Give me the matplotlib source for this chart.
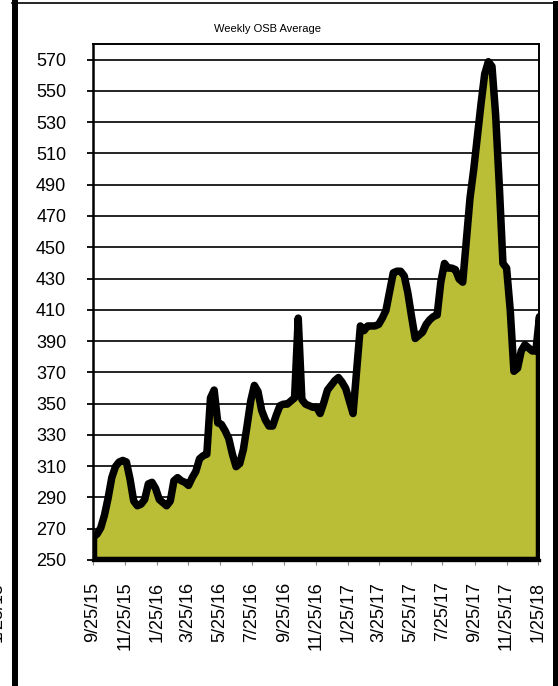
import matplotlib
matplotlib.use("Agg")
import matplotlib.pyplot as plt
import pandas as pd
from matplotlib.lines import Line2D

plt.rcParams['font.family'] = ['Liberation Sans', 'DejaVu Sans']

title = "Weekly OSB Average"
start_date = "2015-09-25"
osb_values = [
    265, 267, 271, 279, 290, 303, 310, 313, 314, 313,
    302, 288, 285, 286, 289, 299, 300, 296, 289, 287,
    285, 288, 301, 303, 301, 300, 298, 303, 307, 315,
    317, 318, 354, 359, 338, 337, 333, 328, 318, 310,
    312, 321, 336, 352, 362, 358, 346, 340, 336, 336,
    343, 349, 350, 350, 352, 354, 405, 353, 350, 349,
    348, 348, 344, 351, 359, 362, 365, 367, 364, 360,
    352, 344, 372, 400, 397, 400, 400, 400, 401, 405,
    410, 422, 434, 435, 435, 432, 421, 406, 392, 394,
    396, 401, 404, 406, 407, 428, 440, 437, 437, 436,
    430, 428, 455, 482, 500, 521, 542, 561, 569, 566,
    535, 490, 440, 437, 410, 371, 373, 384, 388, 386,
    384, 384, 406,
]
x_tick_labels = ["9/25/15", "11/25/15", "1/25/16", "3/25/16", "5/25/16",
                 "7/25/16", "9/25/16", "11/25/16", "1/25/17", "3/25/17",
                 "5/25/17", "7/25/17", "9/25/17", "11/25/17", "1/25/18"]
y_ticks = list(range(250, 571, 20))

dates = pd.date_range(start_date, periods=len(osb_values), freq="7D")
tick_dates = pd.to_datetime(x_tick_labels, format="%m/%d/%y")

W, H = 558, 686
fig = plt.figure(figsize=(W / 100, H / 100), dpi=100)
ax = fig.add_axes([93 / W, 1 - 560 / H, (539 - 93) / W, (560 - 44) / H])

fill = ax.fill_between(dates, osb_values, 250, facecolor="#BABD36",
                       edgecolor="black", linewidth=5.4, zorder=3)
fill.set_joinstyle("round")
fill.set_capstyle("round")

ax.set_xlim(dates[0], dates[-1])
ax.set_ylim(250, 580)
ax.set_yticks(y_ticks)
ax.set_yticklabels([str(v) for v in y_ticks], fontsize=13)
ax.set_xticks(tick_dates)
ax.set_xticklabels(x_tick_labels, rotation=90, fontsize=13)

for v in y_ticks[1:]:
    ax.axhline(v, color="black", linewidth=1.2, zorder=1)

ax.tick_params(axis="y", direction="out", length=4.3, width=1.3, color="black", pad=15)
ax.tick_params(axis="x", direction="out", length=3.6, width=0.8, color="#888888", pad=12)

for s in ["top", "right"]:
    ax.spines[s].set_linewidth(1.4)
    ax.spines[s].set_color("black")
ax.spines["left"].set_linewidth(1.8)
ax.spines["bottom"].set_linewidth(2.4)
for s in ax.spines.values():
    s.set_zorder(4)

fig.text(267 / W, 1 - 29 / H, title, fontsize=8, ha="center", va="center")

# surrounding frame bars
fig.add_artist(Line2D([15 / W, 15 / W], [0, 1 - 3 / H], color="black", linewidth=4.3))
fig.add_artist(Line2D([554.5 / W, 554.5 / W], [0, 1 - 3 / H], color="black", linewidth=3.6))
fig.add_artist(Line2D([12 / W, 557 / W], [1 - 3 / H, 1 - 3 / H], color="black", linewidth=1.2))

# cut-off label of neighbouring chart (partly outside the picture, as in the reference)
fig.text(6 / W, 1 - 582 / H, "1/25/18", fontsize=13, rotation=90, ha="right", va="top")

fig.savefig("out.png", dpi=100)
